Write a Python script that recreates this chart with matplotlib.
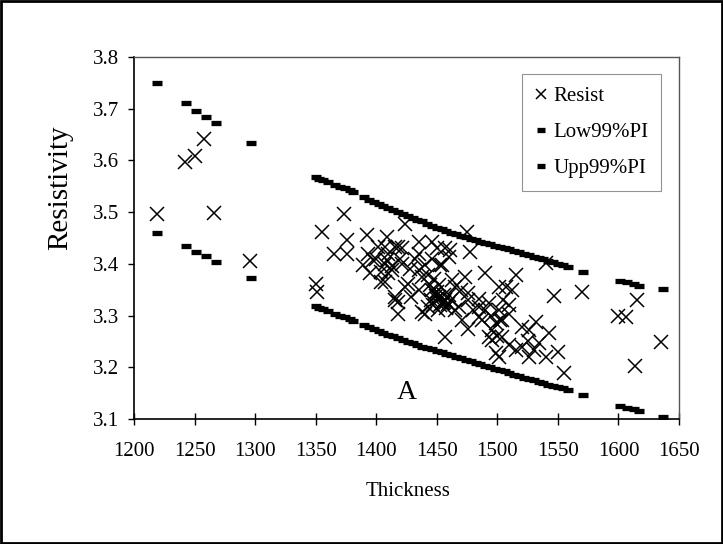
import matplotlib
matplotlib.use("Agg")
import matplotlib.pyplot as plt
from matplotlib.patches import Rectangle

plt.rcParams['font.family'] = ['Liberation Serif', 'DejaVu Serif']

# ---- data ----
thickness = [1219, 1242, 1250, 1258, 1266, 1296, 1350, 1351, 1355,
             1540, 1547, 1570, 1555, 1600, 1606, 1615, 1614, 1635,
             1373, 1392, 1408.6, 1365, 1376, 1376, 1393, 1401.6, 1415.5, 1389,
             1397.5, 1408.6, 1395, 1404, 1412.7, 1407, 1415.5, 1424,
             1475, 1435, 1446, 1421, 1457, 1477.5, 1435, 1460, 1446, 1421,
             1490, 1435, 1453, 1473.5, 1443, 1462.5, 1426.5, 1501, 1448.7, 1435,
             1476, 1484.6, 1454, 1443, 1493, 1465, 1501,
             1515, 1507, 1509.5, 1531.7, 1526, 1543, 1504, 1509.5, 1520,
             1504, 1509.5, 1515, 1526, 1534, 1540, 1550, 1530, 1501,
             1407, 1418, 1450, 1461, 1407, 1410, 1440, 1454, 1404, 1424,
             1437.6, 1446, 1450, 1455.6, 1447, 1460, 1468, 1465, 1476, 1484.6,
             1487, 1471, 1415.5, 1418, 1440, 1457, 1493, 1498.5, 1498.5, 1476,
             1429, 1437.6,
             1452, 1455, 1457, 1453, 1449, 1458, 1456, 1451, 1462, 1445, 1450, 1459,
             1418, 1495.7, 1484.6, 1502.6, 1505, 1512, 1495.7,
             1400, 1410, 1413, 1420, 1428, 1432, 1444, 1448, 1452, 1470,
             1480, 1490, 1495, 1500, 1520, 1525]
resist = [3.497, 3.597, 3.609, 3.641, 3.499, 3.406, 3.362, 3.346, 3.461,
          3.402, 3.338, 3.346, 3.188, 3.300, 3.297, 3.331, 3.203, 3.249,
          3.496, 3.456, 3.452, 3.420, 3.446, 3.420, 3.420, 3.433, 3.433, 3.398,
          3.407, 3.407, 3.382, 3.385, 3.388, 3.365, 3.336, 3.478,
          3.462, 3.443, 3.443, 3.430, 3.430, 3.423, 3.420, 3.414, 3.410, 3.400,
          3.382, 3.388, 3.398, 3.375, 3.378, 3.369, 3.362, 3.356, 3.343, 3.349,
          3.343, 3.333, 3.324, 3.317, 3.324, 3.311, 3.311,
          3.378, 3.356, 3.320, 3.288, 3.272, 3.266, 3.291, 3.304, 3.278,
          3.259, 3.243, 3.233, 3.220, 3.246, 3.220, 3.230, 3.233, 3.220,
          3.433, 3.433, 3.430, 3.427, 3.400, 3.382, 3.398, 3.398, 3.365, 3.356,
          3.375, 3.349, 3.333, 3.327, 3.320, 3.340, 3.317, 3.356, 3.330, 3.317,
          3.291, 3.291, 3.330, 3.304, 3.304, 3.259, 3.259, 3.227, 3.285, 3.275,
          3.336, 3.307,
          3.335, 3.325, 3.330, 3.320, 3.338, 3.315, 3.340, 3.310, 3.330, 3.330, 3.345, 3.322,
          3.327, 3.272, 3.298, 3.291, 3.330, 3.349, 3.253,
          3.410, 3.420, 3.395, 3.410, 3.390, 3.410, 3.360, 3.370, 3.360, 3.350,
          3.310, 3.310, 3.300, 3.260, 3.240, 3.250]

pi_thickness = [1219, 1243, 1251, 1259.5, 1267.5, 1297,
                1350, 1353, 1356, 1360, 1366, 1370, 1374, 1378, 1381,
                1390, 1394, 1398, 1402, 1406, 1410, 1414, 1418, 1422, 1426,
                1430, 1434, 1438, 1442, 1446, 1450, 1454, 1458, 1462, 1466,
                1470, 1474, 1478, 1482, 1486, 1490, 1494, 1498, 1502, 1506,
                1510, 1514, 1518, 1522, 1526, 1530, 1534, 1538, 1542, 1546,
                1550, 1554, 1558,
                1571, 1601, 1607, 1613, 1617, 1637]
upp99 = [3.750, 3.712, 3.696, 3.684, 3.672, 3.634,
         3.568, 3.565, 3.562, 3.559, 3.553, 3.549, 3.546, 3.542, 3.539,
         3.529, 3.524, 3.520, 3.516, 3.512, 3.508, 3.505, 3.501, 3.497, 3.493,
         3.489, 3.485, 3.482, 3.478, 3.474, 3.470, 3.467, 3.464, 3.460, 3.457,
         3.454, 3.451, 3.448, 3.446, 3.443, 3.440, 3.438, 3.435, 3.433, 3.430,
         3.428, 3.425, 3.423, 3.420, 3.417, 3.414, 3.412, 3.409, 3.406, 3.403,
         3.400, 3.397, 3.394,
         3.384, 3.367, 3.364, 3.361, 3.358, 3.351]
low99 = [3.459, 3.435, 3.423, 3.416, 3.403, 3.372,
         3.318, 3.315, 3.313, 3.309, 3.304, 3.300, 3.297, 3.293, 3.290,
         3.282, 3.278, 3.274, 3.270, 3.267, 3.263, 3.260, 3.256, 3.253, 3.249,
         3.246, 3.243, 3.240, 3.238, 3.235, 3.232, 3.229, 3.226, 3.223, 3.220,
         3.218, 3.215, 3.212, 3.209, 3.206, 3.203, 3.200, 3.197, 3.195, 3.192,
         3.189, 3.186, 3.183, 3.180, 3.177, 3.175, 3.172, 3.169, 3.166, 3.164,
         3.162, 3.159, 3.156,
         3.146, 3.126, 3.122, 3.119, 3.116, 3.103]

xticks = [1200, 1250, 1300, 1350, 1400, 1450, 1500, 1550, 1600, 1650]
yticks = [3.1, 3.2, 3.3, 3.4, 3.5, 3.6, 3.7, 3.8]

# ---- figure ----
fig = plt.figure(figsize=(7.23, 5.44), dpi=100)
ax = fig.add_axes([134/723, 1-419/544, (679-134)/723, (419-57)/544])

ax.plot(thickness, resist, linestyle='none', marker='x', markersize=9.5,
        markeredgewidth=1.1, color='black', label='Resist', zorder=3)
ax.plot(pi_thickness, low99, linestyle='none', marker='_', markersize=6.5,
        markeredgewidth=3.8, color='black', label='Low99%PI', zorder=2)
ax.plot(pi_thickness, upp99, linestyle='none', marker='_', markersize=6.5,
        markeredgewidth=3.8, color='black', label='Upp99%PI', zorder=2)

ax.set_xlim(1200, 1650)
ax.set_ylim(3.1, 3.8)
ax.set_xticks(xticks)
ax.set_xticklabels([str(t) for t in xticks])
ax.set_yticks(yticks)
ax.set_yticklabels(['%.1f' % t for t in yticks])
ax.tick_params(axis='x', direction='inout', length=9, width=1, labelsize=15, pad=12)
ax.tick_params(axis='y', direction='out', length=4.5, width=1, labelsize=15, pad=6)

for s in ['left', 'bottom']:
    ax.spines[s].set_linewidth(1.2)
    ax.spines[s].set_color('black')
for s in ['top', 'right']:
    ax.spines[s].set_linestyle((0, (1, 1)))
    ax.spines[s].set_linewidth(1.0)
    ax.spines[s].set_color('#555555')

ax.text(1425, 3.152, 'A', fontsize=20, ha='center', va='center')

fig.text(60/723, 1-188/544, 'Resistivity', rotation=90, fontsize=21,
         ha='center', va='center')
fig.text(408/723, 1-492/544, 'Thickness', fontsize=15, ha='center', va='center')

leg = ax.legend(loc='upper left', bbox_to_anchor=(0.712, 0.952), fontsize=15,
                frameon=True, fancybox=False, edgecolor='#777777',
                handlelength=0.6, handletextpad=0.3, labelspacing=0.78,
                borderpad=0.6, borderaxespad=0, markerscale=0.8)
leg.get_frame().set_linewidth(0.8)

fig.patches.append(Rectangle((0.001, 0.001), 0.997, 0.997, transform=fig.transFigure,
                             fill=False, edgecolor='black', linewidth=2))

fig.savefig('out.png', dpi=100)
